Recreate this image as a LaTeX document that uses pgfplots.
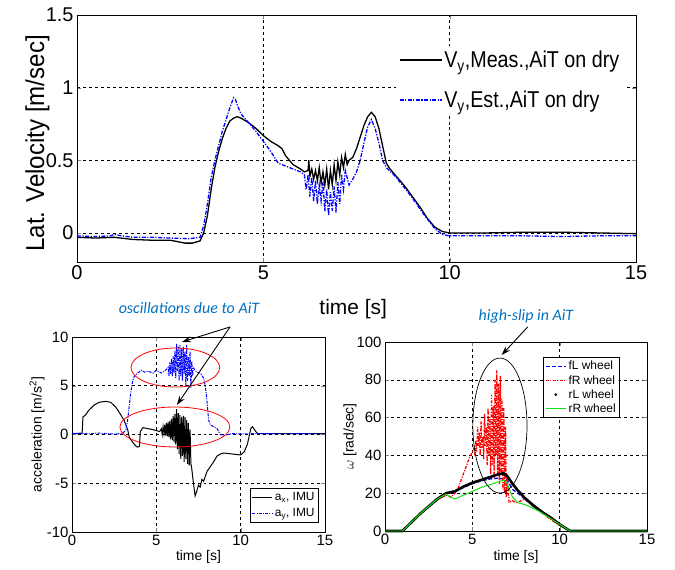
\documentclass[border=0pt]{standalone}
\usepackage{fontspec}
\setmainfont{Liberation Sans}
\newfontfamily\condA[FakeStretch=0.93]{Liberation Sans}
\newfontfamily\condB[FakeStretch=0.86]{Liberation Sans}
\newfontfamily\calib{Carlito}
\usepackage{pgfplots}
\pgfplotsset{compat=1.18}
\usetikzlibrary{arrows.meta}
\definecolor{annblue}{RGB}{0,112,192}
\definecolor{mgreen}{RGB}{20,225,20}
\pgfplotsset{
  mstyle/.style={
    scale only axis,
    xmin=0,xmax=15,
    grid=major,
    major grid style={black,dash pattern=on 3pt off 3pt,line width=0.5pt},
    tick align=inside,
    axis line style={line width=0.8pt},
    major tick length=4bp,
    /pgf/number format/assume math mode=true,
    clip=false,
  }
}
\begin{document}
\begin{tikzpicture}
% ---------- top ----------
\begin{axis}[mstyle,
  at={(77bp,308bp)},anchor=south west,
  width=559bp,height=247bp,
  ymin=-0.2,ymax=1.5,
  xtick={0,5,10,15},ytick={0,0.5,1,1.5},
  yticklabels={0,0.5,1,1.5},
  tick label style={font=\fontsize{20}{22}\selectfont},
  xlabel={time [s]},
  xlabel style={font=\fontsize{21}{24}\selectfont,at={(axis description cs:0.494,-0.19)},anchor=center},
  ylabel={\condA Lat. Velocity [m/sec]},
  ylabel style={font=\fontsize{26}{30}\selectfont,at={(axis description cs:-0.071,0.48)},anchor=center},
  legend style={draw=none,fill=white,at={(0.57,0.875)},anchor=north west,
    font=\condB\fontsize{23}{26}\selectfont,row sep=18bp,inner sep=3bp},
  legend cell align=left,
]
\addplot[black,line width=1.3pt,legend image code/.code={\draw[draw=black,line width=1.5pt] (0bp,0bp) -- (42bp,0bp);}] coordinates {
(0,-0.03)(0.5,-0.035)(1.0,-0.03)(1.5,-0.045)(2.0,-0.05)(2.5,-0.05)(2.7,-0.06)(2.9,-0.07)(3.1,-0.07)(3.3,-0.055)(3.4,0.0)(3.5,0.12)(3.6,0.3)(3.7,0.45)(3.8,0.56)(3.9,0.65)(4.0,0.72)(4.1,0.77)(4.2,0.79)(4.3,0.8)(4.4,0.79)(4.6,0.76)(4.8,0.72)(5.0,0.67)(5.2,0.63)(5.4,0.6)(5.5,0.58)(5.6,0.53)(5.7,0.5)(5.8,0.47)(6.0,0.44)(6.1,0.42)(6.2,0.43)(6.22,0.5)(6.25,0.39)(6.3,0.44)(6.35,0.37)(6.4,0.43)(6.45,0.36)(6.5,0.45)(6.55,0.34)(6.6,0.42)(6.65,0.33)(6.7,0.44)(6.75,0.3)(6.8,0.43)(6.85,0.33)(6.9,0.47)(6.95,0.36)(7.0,0.49)(7.05,0.4)(7.1,0.52)(7.15,0.45)(7.2,0.54)(7.25,0.47)(7.3,0.5)(7.4,0.52)(7.5,0.58)(7.6,0.66)(7.7,0.74)(7.8,0.8)(7.9,0.83)(8.0,0.8)(8.1,0.72)(8.2,0.6)(8.3,0.48)(8.4,0.44)(8.6,0.38)(8.8,0.32)(9.0,0.25)(9.2,0.18)(9.4,0.1)(9.6,0.04)(9.8,0.01)(10.0,0.0)(11,0.0)(12,0.005)(13,0.005)(14,0.0)(15,-0.005)
};
\addlegendentry{V\textsubscript{y},Meas.,AiT on dry}
\addplot[blue,line width=1.3pt,dash pattern=on 4pt off 1.5pt on 1.2pt off 1.5pt,legend image code/.code={\draw[draw=blue,line width=1.5pt,dash pattern=on 4pt off 1.5pt on 1.2pt off 1.5pt] (0bp,0bp) -- (42bp,0bp);}] coordinates {
(0,-0.02)(0.5,-0.025)(0.9,-0.02)(1.0,-0.01)(1.2,-0.02)(1.5,-0.03)(2.0,-0.03)(2.5,-0.035)(3.0,-0.04)(3.3,-0.03)(3.4,0.05)(3.5,0.2)(3.6,0.38)(3.7,0.5)(3.8,0.6)(3.9,0.7)(4.0,0.78)(4.1,0.86)(4.2,0.93)(4.25,0.92)(4.3,0.88)(4.4,0.82)(4.6,0.76)(4.8,0.7)(5.0,0.63)(5.2,0.56)(5.3,0.52)(5.4,0.48)(5.5,0.47)(5.6,0.46)(5.8,0.44)(6.0,0.42)(6.1,0.4)(6.15,0.3)(6.2,0.4)(6.25,0.25)(6.3,0.38)(6.35,0.22)(6.4,0.36)(6.45,0.2)(6.5,0.33)(6.55,0.22)(6.6,0.35)(6.65,0.15)(6.7,0.3)(6.75,0.12)(6.8,0.28)(6.85,0.15)(6.9,0.32)(6.95,0.14)(7.0,0.35)(7.05,0.2)(7.1,0.4)(7.15,0.3)(7.2,0.43)(7.3,0.33)(7.4,0.37)(7.5,0.42)(7.6,0.5)(7.7,0.62)(7.8,0.73)(7.9,0.78)(8.0,0.72)(8.1,0.62)(8.2,0.5)(8.3,0.45)(8.5,0.4)(8.7,0.34)(9.0,0.24)(9.3,0.13)(9.6,0.03)(9.8,-0.01)(10.0,-0.02)(11,-0.02)(12,-0.02)(13,-0.025)(14,-0.02)(15,-0.02)
};
\addlegendentry{V\textsubscript{y},Est.,AiT on dry}
\end{axis}
% ---------- bottom left ----------
\begin{axis}[mstyle,
  at={(72bp,38bp)},anchor=south west,
  width=253bp,height=195bp,
  ymin=-10,ymax=10,
  xtick={0,5,10,15},ytick={-10,-5,0,5,10},
  tick label style={font=\fontsize{15}{17}\selectfont},
  xlabel={time [s]},
  xlabel style={font=\fontsize{14}{16}\selectfont,at={(axis description cs:0.5,-0.128)},anchor=center},
  ylabel={acceleration [m/s\textsuperscript{2}]},
  ylabel style={font=\fontsize{14}{16}\selectfont,at={(axis description cs:-0.138,0.5)},anchor=center},
  legend style={draw=black,fill=white,at={(0.976,0.05)},anchor=south east,
    font=\fontsize{12}{14}\selectfont,row sep=2bp,inner sep=2bp,line width=0.6pt},
  legend cell align=left,
]
\addplot[black,line width=1pt,legend image code/.code={\draw[draw=black,line width=1pt,solid] (0bp,0bp) -- (20bp,0bp);}] coordinates {
(0,0.1)(0.6,0.1)(0.65,1.8)(0.8,2.0)(1.0,2.5)(1.3,3.0)(1.6,3.3)(2.0,3.4)(2.3,3.3)(2.6,2.8)(2.9,2.0)(3.1,1.4)(3.3,0.5)(3.4,-0.3)(3.6,-0.8)(3.8,-1.2)(3.9,-1.3)(4.0,-1.2)(4.05,0.3)(4.2,0.7)(4.5,0.6)(4.8,0.5)(5.0,0.4)(5.2,0.3)(5.3,0.6)(5.35,0.0)(5.4,0.8)(5.45,0.1)(5.5,1.0)(5.55,-0.1)(5.6,1.2)(5.65,-0.2)(5.7,1.3)(5.75,-0.3)(5.8,1.4)(5.85,-0.5)(5.9,1.6)(5.95,-0.6)(6.0,1.9)(6.05,-0.8)(6.1,2.1)(6.15,-1.0)(6.2,2.6)(6.25,-1.5)(6.3,2.2)(6.35,-2.0)(6.4,2.0)(6.45,-2.5)(6.5,1.8)(6.55,-2.2)(6.6,1.9)(6.65,-2.8)(6.7,1.8)(6.75,-2.5)(6.8,1.5)(6.85,-3.0)(6.9,1.2)(6.95,-3.2)(7.0,0.5)(7.05,-3.0)(7.1,-3.5)(7.2,-5.0)(7.3,-6.3)(7.4,-5.8)(7.5,-5.2)(7.6,-5.4)(7.7,-4.6)(7.8,-4.8)(8.0,-3.8)(8.2,-3.3)(8.4,-2.8)(8.6,-2.2)(8.8,-2.0)(9.0,-1.9)(9.5,-2.0)(10.0,-2.1)(10.2,-1.8)(10.4,-1.0)(10.6,0.6)(10.7,0.8)(10.9,0.3)(11.0,0.1)(12,0.1)(15,0.1)
};
\addlegendentry{a\textsubscript{x}, IMU}
\addplot[blue,line width=1pt,dash pattern=on 3pt off 1.2pt on 1pt off 1.2pt,legend image code/.code={\draw[draw=blue,line width=1pt,dash pattern=on 3pt off 1.2pt on 1pt off 1.2pt] (0bp,0bp) -- (20bp,0bp);}] coordinates {
(0,0.1)(0.5,0.15)(1,0.05)(1.5,0.15)(2,0.1)(2.5,0.05)(3.0,0.1)(3.2,0.5)(3.3,1.5)(3.4,3.0)(3.5,4.5)(3.6,5.5)(3.7,6.0)(3.9,6.3)(4.1,6.6)(4.3,6.4)(4.5,6.5)(4.8,6.3)(5.0,6.6)(5.3,6.3)(5.5,6.5)(5.7,6.9)(5.75,6.0)(5.8,7.4)(5.85,6.2)(5.9,7.8)(5.95,6.0)(6.0,8.0)(6.05,6.3)(6.1,8.6)(6.15,5.8)(6.2,9.3)(6.25,6.5)(6.3,9.0)(6.35,5.5)(6.4,9.2)(6.45,6.0)(6.5,8.8)(6.55,5.5)(6.6,9.0)(6.65,6.2)(6.7,8.5)(6.75,5.0)(6.8,9.2)(6.85,5.5)(6.9,8.0)(6.95,6.0)(7.0,8.5)(7.05,4.8)(7.1,7.5)(7.15,6.0)(7.2,6.8)(7.4,6.4)(7.6,6.3)(7.8,5.8)(7.9,5.0)(8.0,3.5)(8.1,1.5)(8.2,1.0)(8.4,0.8)(8.6,0.6)(8.8,0.0)(9.0,-0.1)(9.5,0.1)(10,0.05)(11,0.1)(12,0.1)(15,0.1)
};
\addlegendentry{a\textsubscript{y}, IMU}
\draw[red,line width=0.8pt] (axis cs:6.13,6.87) ellipse [x radius=2.63,y radius=2.0];
\draw[red,line width=0.8pt] (axis cs:6.1,0.77) ellipse [x radius=3.26,y radius=2.05];
\draw[black,line width=0.9pt,-{Stealth[length=9bp,width=6bp]}] (axis cs:9.37,11.03) -- (axis cs:6.52,9.49);
\draw[black,line width=0.9pt,-{Stealth[length=9bp,width=6bp]}] (axis cs:9.37,11.03) -- (axis cs:6.22,3.03);
\end{axis}
% ---------- bottom right ----------
\begin{axis}[mstyle,
  at={(385bp,39bp)},anchor=south west,
  width=262bp,height=189bp,
  ymin=0,ymax=100,
  xtick={0,5,10,15},ytick={0,20,40,60,80,100},
  tick label style={font=\fontsize{15}{17}\selectfont},
  xlabel={time [s]},
  xlabel style={font=\fontsize{14}{16}\selectfont,at={(axis description cs:0.5,-0.138)},anchor=center},
  ylabel={$\omega$ [rad/sec]},
  ylabel style={font=\fontsize{14}{16}\selectfont,at={(axis description cs:-0.134,0.5)},anchor=center},
  legend style={draw=black,fill=white,at={(0.897,0.921)},anchor=north east,
    font=\fontsize{12}{14}\selectfont,row sep=0bp,inner sep=2bp,line width=0.6pt},
  legend cell align=left,
]
\addplot[blue,line width=1.3pt,dash pattern=on 4pt off 2pt,legend image code/.code={\draw[draw=blue,line width=1.6pt,dash pattern=on 4pt off 2pt] (0bp,0bp) -- (20bp,0bp);}] coordinates {
(0,0)(1,0)(2,9)(3,16.5)(3.5,19.5)(4,21)(4.5,23)(5,25)(5.5,26.5)(6,27.5)(6.5,28)(7,27)(7.3,22)(7.6,20)(8,17)(8.5,13)(9,10)(9.5,7)(10,3.5)(10.6,0)(15,0)
};
\addlegendentry{fL wheel}
\addplot[red,line width=1.3pt,dash pattern=on 3pt off 1.5pt on 1pt off 1.5pt,legend image code/.code={\draw[draw=red,line width=1.6pt,dash pattern=on 3pt off 1.5pt on 1pt off 1.5pt] (0bp,0bp) -- (20bp,0bp);}] coordinates {
(0,0)(1,0)(2,9)(3,16.5)(3.5,19)(3.8,18)(4,20)(4.2,23)(4.4,28)(4.6,33)(4.8,38)(5.0,42)(5.1,44)(5.15,40)(5.2,48)(5.25,42)(5.3,55)(5.35,45)(5.4,52)(5.45,40)(5.5,58)(5.55,44)(5.6,50)(5.65,38)(5.7,62)(5.75,45)(5.8,55)(5.85,35)(5.9,65)(5.95,40)(6.0,60)(6.05,30)(6.1,72)(6.15,35)(6.2,66)(6.25,28)(6.3,80)(6.35,40)(6.4,85)(6.45,30)(6.5,78)(6.55,25)(6.6,82)(6.65,30)(6.7,70)(6.75,22)(6.8,65)(6.85,20)(6.9,55)(6.95,18)(7.0,30)(7.1,15)(7.3,16)(7.5,15)(7.8,16)(8.0,17)(8.5,13)(9,9.5)(9.5,6)(10,3)(10.6,0)(15,0)
};
\addlegendentry{fR wheel}
\addplot[black,line width=2.6pt,legend image code/.code={\path[fill=black,draw=none] (10bp,0bp) circle (1.5bp);}] coordinates {
(0,0)(1,0)(2,9)(3,17)(3.5,20)(4,21)(4.5,23.5)(5,25.5)(5.5,27)(6,28.5)(6.5,30)(6.8,30.5)(7.0,29)(7.3,25)(7.6,21.5)(8,17.5)(8.5,13.5)(9,10)(9.5,7)(10,3.5)(10.6,0)(15,0)
};
\addlegendentry{rL wheel}
\addplot[mgreen,line width=1pt,legend image code/.code={\draw[draw=mgreen,line width=1pt,solid] (0bp,0bp) -- (20bp,0bp);}] coordinates {
(0,0)(1,0)(2,9)(3,17)(3.5,19.5)(3.7,18)(4.0,17)(4.5,19)(5,21)(5.5,23)(6,24.5)(6.5,26)(6.8,27)(7.0,25)(7.3,18)(7.6,15)(8,14)(8.5,12)(9,9.5)(9.5,6.5)(10,3.5)(10.6,0)(15,0)
};
\addlegendentry{rR wheel}
\draw[black,line width=0.7pt] (axis cs:6.58,55.8) ellipse [x radius=1.55,y radius=35.7];
\draw[black,line width=0.9pt,-{Stealth[length=9bp,width=6bp]}] (axis cs:8.17,108) -- (axis cs:6.68,93.1);
\end{axis}
\node[font=\calib\itshape\fontsize{16}{19}\selectfont,text=annblue] at (189bp,262bp) {oscillations due to AiT};
\node[font=\calib\itshape\fontsize{16}{19}\selectfont,text=annblue] at (526bp,254bp) {high-slip in AiT};
\pgfresetboundingbox
\path[use as bounding box] (0bp,0bp) rectangle (675bp,570bp);
\end{tikzpicture}
\end{document}
